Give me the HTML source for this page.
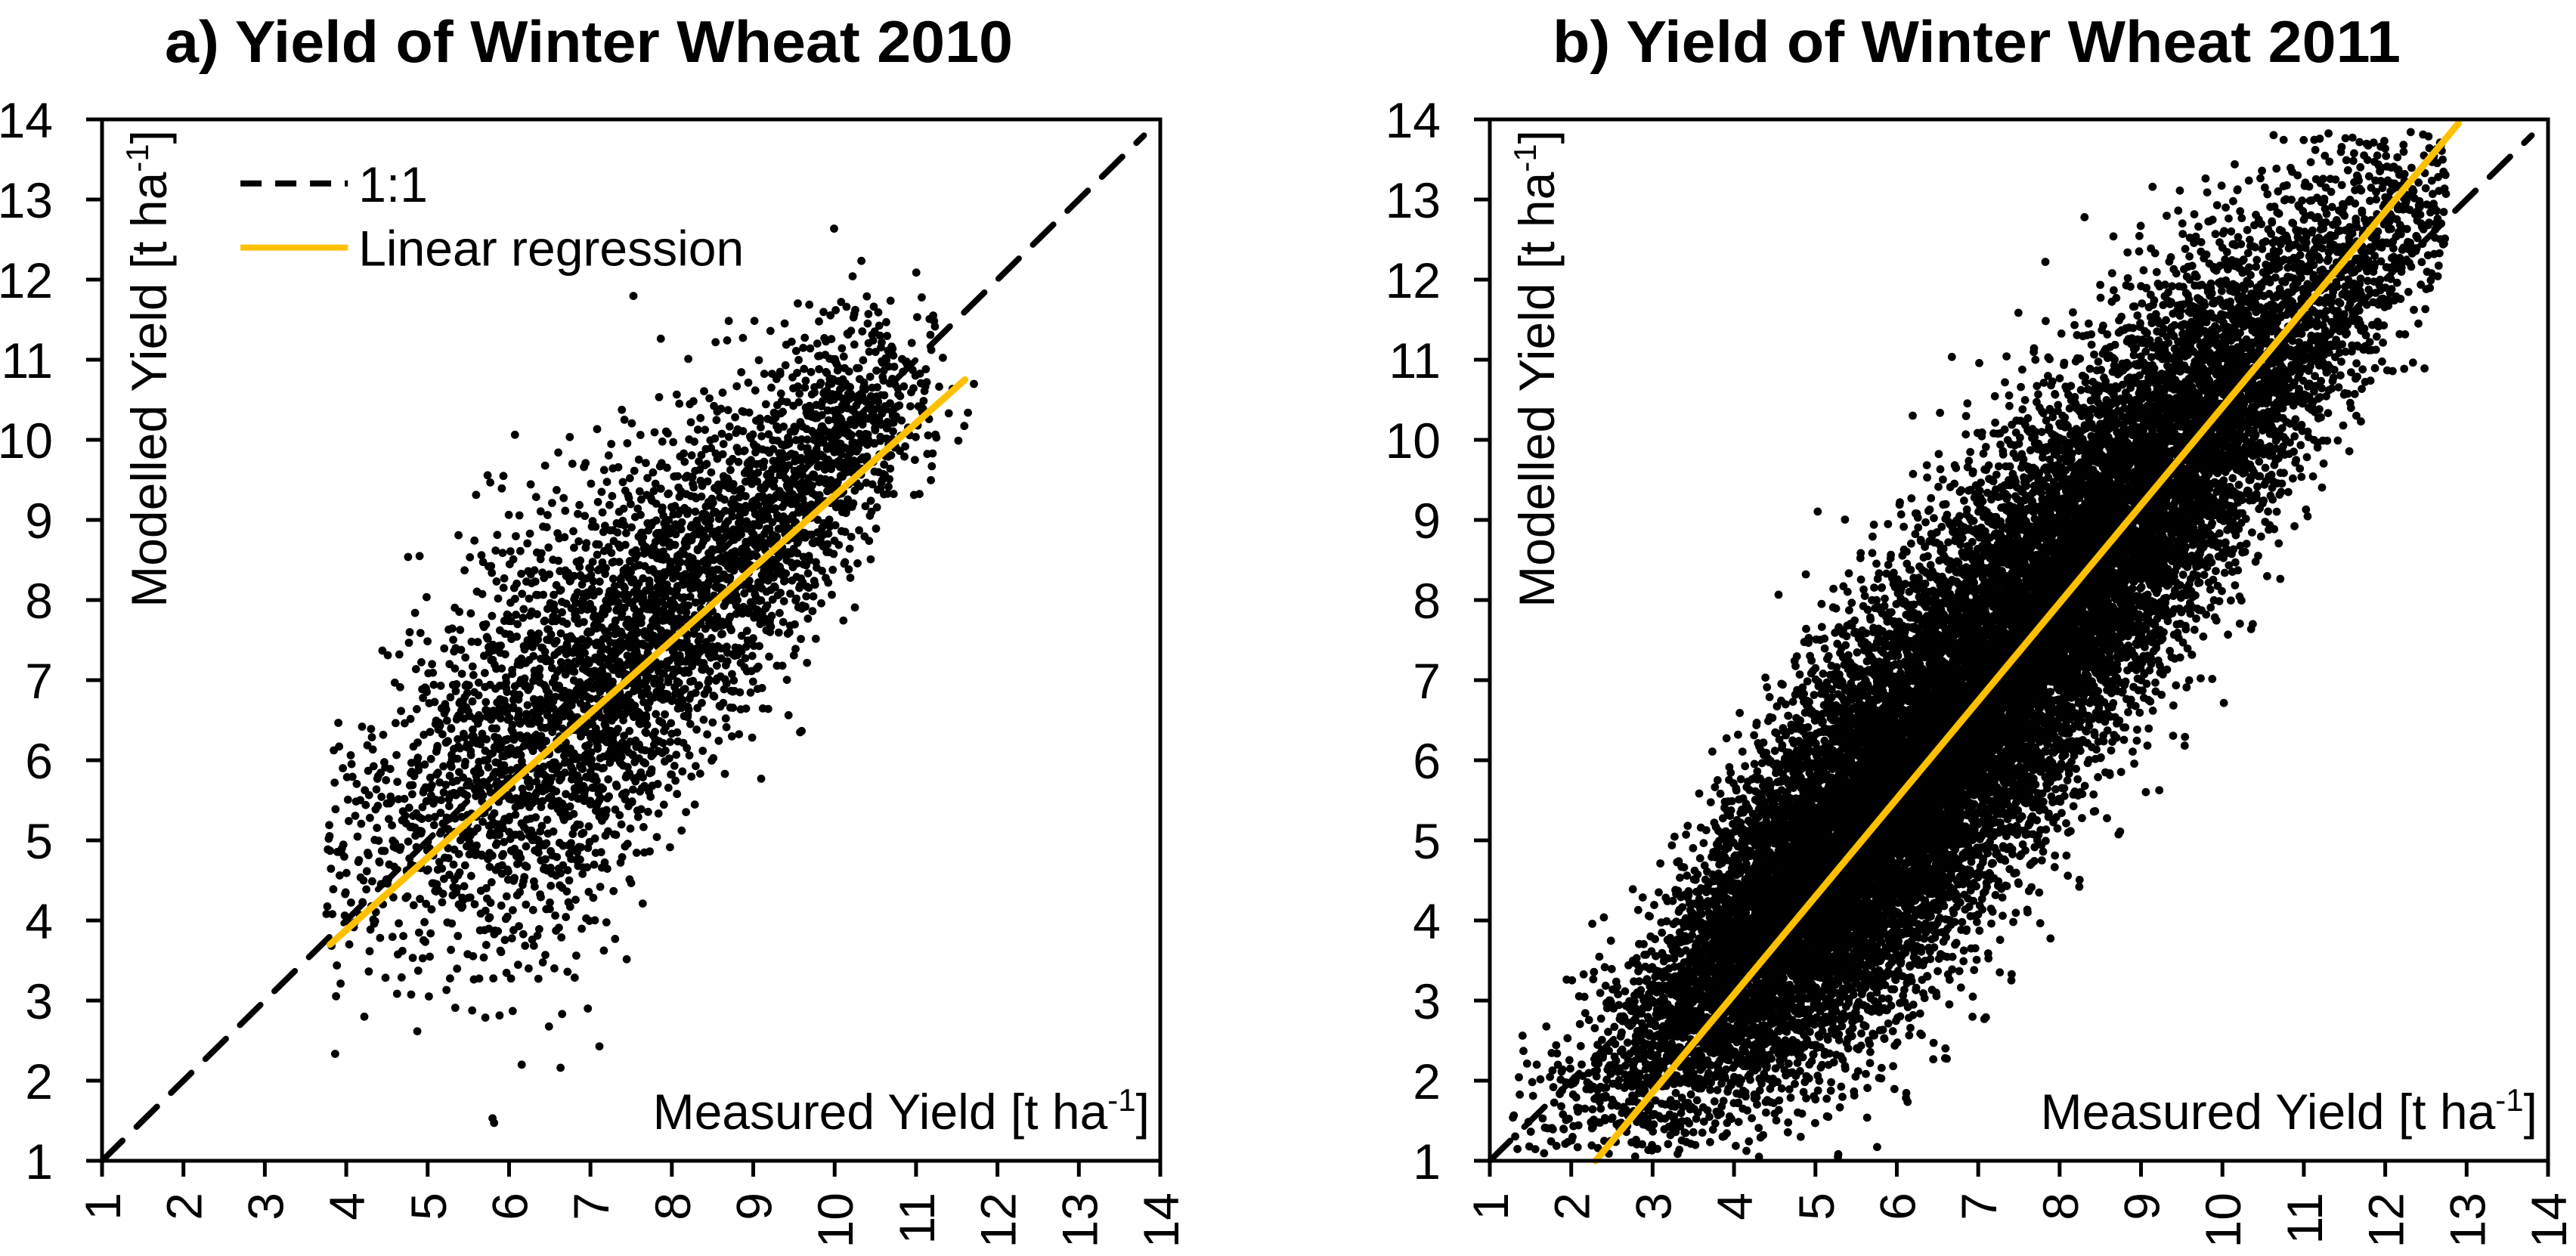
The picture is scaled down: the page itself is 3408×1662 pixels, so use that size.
<!DOCTYPE html>
<html><head><meta charset="utf-8"><style>
html,body{margin:0;padding:0;background:#fff}
svg{display:block}
text{font-family:"Liberation Sans",Arial,sans-serif;fill:#000}
</style></head><body>
<svg id="fig" width="3408" height="1662" viewBox="0 0 3408 1662" xmlns="http://www.w3.org/2000/svg">
<rect width="3408" height="1662" fill="#fff"/>
<g id="panelA"></g>
<g id="panelB"></g>
</svg>
<script>
// ---------- data (per-bin summaries of the point clouds) ----------
const ticks = [1,2,3,4,5,6,7,8,9,10,11,12,13,14];
const titleA = "a)  Yield of Winter Wheat 2010";
const titleB = "b)  Yield of Winter Wheat 2011";
// Panel a (2010)
const binXA   = [4.0,4.5,5.0,5.5,6.0,6.5,7.0,7.5,8.0,8.5,9.0,9.5,10.0,10.5,11.0,11.5];
const binNA   = [60,90,150,220,300,340,380,400,380,330,300,280,260,170,60,8];
const binMeanA= [4.8,5.1,5.5,5.8,6.1,6.4,6.8,7.3,7.8,8.3,8.7,9.3,9.9,10.3,10.5,10.4];
const binSdA  = [0.9,1.0,1.15,1.3,1.4,1.4,1.3,1.2,1.1,1.05,1.0,0.95,0.85,0.7,0.6,0.4];
const regA = [[3.8,3.7],[11.6,10.75]];
// Panel b (2011)
const binXB   = [1.5,2.0,2.5,3.0,3.5,4.0,4.5,5.0,5.5,6.0,6.5,7.0,7.5,8.0,8.5,9.0,9.5,10.0,10.5,11.0,11.5,12.0,12.5];
const binNB   = [30,80,150,300,500,800,1100,1300,1400,1400,1350,1300,1250,1200,1100,1000,850,700,500,350,250,180,100];
const binMeanB= [1.5,1.7,2.1,2.5,3.0,3.6,4.1,4.6,5.1,5.6,6.2,6.8,7.4,8.0,8.6,9.2,9.8,10.4,10.9,11.5,12.0,12.5,12.8];
const binSdB  = [0.6,0.7,0.75,0.8,0.9,1.0,1.1,1.2,1.25,1.3,1.3,1.3,1.3,1.25,1.2,1.2,1.15,1.1,1.0,0.95,0.9,0.8,0.6];
const regB = [[2.3,1.0],[12.9,13.95]];
const oneToOne = [[1,1],[13.8,13.8]];

const NS="http://www.w3.org/2000/svg";
function mk(tag,parent,attrs){const e=document.createElementNS(NS,tag);for(const k in attrs)e.setAttribute(k,attrs[k]);parent.appendChild(e);return e;}
const Y0=1536, Y1=158;
function frac(v){return v-Math.floor(v);}

function panel(g,X0,X1,title,titleX,binX,binN,binMean,binSd,reg,withLegend,key,tilt){
  const sx=v=>X0+(v-1)*(X1-X0)/13;
  const sy=v=>Y0-(v-1)*(Y0-Y1)/13;
  const t=mk('text',g,{x:titleX,y:82,'font-size':78,'font-weight':'bold',textLength:1122,lengthAdjust:'spacingAndGlyphs'});
  t.textContent=title;
  
  
  let d='';const r=5.4;
  for(let i=0;i<binX.length;i++){
    for(let j=0;j<binN[i];j++){
      const u1=frac((j+1)*0.7548776662+i*0.31)*0.999+0.0005;
      const u2=frac((j+1)*0.5698402910+i*0.17);
      const u3=frac((j+1)*0.6180339887+i*0.43);
      const z=Math.sqrt(-2*Math.log(u1))*Math.cos(2*Math.PI*u2);
      const xv=binX[i]+(u3-0.5)*0.5;
      let yv=binMean[i]+(xv-binX[i])*tilt+z*binSd[i];
      if(yv<1.05||yv>13.85||xv<1.05)continue;
      const px=sx(xv),py=sy(yv);
      d+=`M${(px-r).toFixed(1)} ${py.toFixed(1)}a${r} ${r} 0 1 0 ${2*r} 0a${r} ${r} 0 1 0 ${-2*r} 0`;
    }
  }
  const pts=mk('path',g,{d:d,fill:'#000'});
  
  
  const dl=mk('line',g,{x1:sx(oneToOne[0][0]),y1:sy(oneToOne[0][1]),x2:sx(oneToOne[1][0]),y2:sy(oneToOne[1][1]),stroke:'#000','stroke-width':8,'stroke-dasharray':'38 26','stroke-linecap':'round'});
  
  
  const rl=mk('line',g,{x1:sx(reg[0][0]),y1:sy(reg[0][1]),x2:sx(reg[1][0]),y2:sy(reg[1][1]),stroke:'#FFC000','stroke-width':9,'stroke-linecap':'round'});
  
  
  const fr=mk('rect',g,{x:X0,y:Y1,width:X1-X0,height:Y0-Y1,fill:'none',stroke:'#000','stroke-width':5});
  
  
  ticks.forEach(v=>{
    const ty=mk('line',g,{x1:X0-21,x2:X0,y1:sy(v),y2:sy(v),stroke:'#000','stroke-width':5});
    
    
    const ly=mk('text',g,{x:X0-65,y:sy(v)+24,'font-size':66,'text-anchor':'end'});
    ly.textContent=v;
    
    
    const tx=mk('line',g,{x1:sx(v),x2:sx(v),y1:Y0,y2:Y0+21,stroke:'#000','stroke-width':5});
    
    
    const lx=mk('text',g,{x:0,y:0,'font-size':66,'text-anchor':'end',transform:`translate(${sx(v)+24},1578) rotate(-90)`});
    lx.textContent=v;
    
    
  });
  const yt=mk('text',g,{x:0,y:0,'font-size':66,'text-anchor':'end',transform:`translate(${X0+85},172) rotate(-90)`});
  yt.innerHTML='Modelled Yield [t ha<tspan font-size="42" dy="-24">-1</tspan><tspan dy="24">]</tspan>';
  
  
  const xt=mk('text',g,{x:X1-14,y:1494,'font-size':66,'text-anchor':'end'});
  xt.innerHTML='Measured Yield [t ha<tspan font-size="42" dy="-24">-1</tspan><tspan dy="24">]</tspan>';
  
  
  if(withLegend){
    const lg=mk('g',g,{});
    
    
    const l1=mk('line',lg,{x1:sx(2.7),x2:sx(4.02),y1:sy(13.2),y2:sy(13.2),stroke:'#000','stroke-width':8,'stroke-dasharray':'28 18'});
    
    
    const t1=mk('text',lg,{x:sx(4.15),y:sy(13.2)+24,'font-size':66});
    t1.textContent='1:1';
    
    
    const l2=mk('line',lg,{x1:sx(2.7),x2:sx(4.02),y1:sy(12.4),y2:sy(12.4),stroke:'#FFC000','stroke-width':8});
    
    
    const t2=mk('text',lg,{x:sx(4.15),y:sy(12.4)+24,'font-size':66});
    t2.textContent='Linear regression';
    
    
  }
}
panel(document.getElementById('panelA'),135,1535,titleA,218,binXA,binNA,binMeanA,binSdA,regA,true,'2010',0.6);
panel(document.getElementById('panelB'),1971,3371,titleB,2054,binXB,binNB,binMeanB,binSdB,regB,false,'2011',0.9);
</script>
</body></html>
